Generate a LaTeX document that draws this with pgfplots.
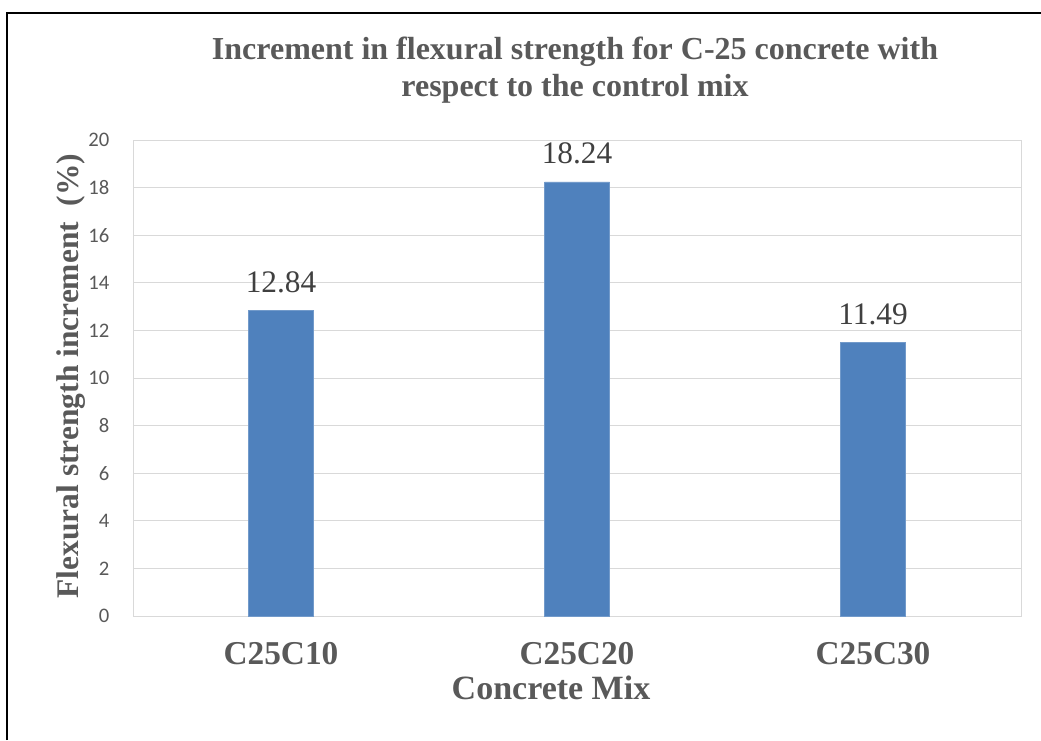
\documentclass[border=0pt]{standalone}
\usepackage{pgfplots}
\pgfplotsset{compat=1.18}
\usepackage{fontspec}
\setmainfont{Liberation Serif}
\newfontfamily\calibri{Carlito}
\definecolor{barblue}{HTML}{4F81BD}
\definecolor{gridgray}{HTML}{D9D9D9}
\definecolor{txtgray}{HTML}{595959}
\definecolor{valgray}{HTML}{404040}
\begin{document}
\begin{tikzpicture}
\path[use as bounding box] (0pt,0pt) rectangle (780.75pt,555pt);
\draw[line width=1.5pt] (5.6pt,0pt) -- (5.6pt,545.6pt) -- (780.75pt,545.6pt);
\begin{axis}[
  at={(99.75pt,93pt)}, anchor=south west,
  width=666pt, height=357pt, scale only axis,
  xmin=-0.5, xmax=2.5, ymin=0, ymax=20,
  xtick={0,1,2}, xticklabels={C25C10,C25C20,C25C30},
  ytick={0,2,...,20},
  major tick length=0pt,
  ymajorgrids, grid style={gridgray, line width=0.75pt},
  axis line style={gridgray, line width=0.75pt},
  /pgf/number format/assume math mode=true,
  yticklabel style={font=\calibri\fontsize{15.5}{18}\selectfont, text=txtgray, anchor=east, inner sep=0pt, xshift=-17.6pt},
  xticklabel style={font=\bfseries\fontsize{25}{28}\selectfont, text=txtgray, anchor=base, inner sep=0pt, yshift=-36.2pt},
  ybar, bar width=48.75pt,
  point meta=explicit symbolic,
  nodes near coords,
  nodes near coords style={font=\fontsize{23.5}{26}\selectfont, text=valgray, anchor=base, inner sep=0pt, yshift=13.5pt},
]
\addplot[fill=barblue, draw=barblue!80!white, line width=0.5pt] coordinates {(0,12.84) [12.84] (1,18.24) [18.24] (2,11.49) [11.49]};
\end{axis}
\node[anchor=base, text=txtgray, font=\bfseries\fontsize{24}{28}\selectfont] at (431.25pt,510.5pt) {Increment in flexural strength for C-25 concrete with};
\node[anchor=base, text=txtgray, font=\bfseries\fontsize{24}{28}\selectfont] at (431.25pt,482.5pt) {respect to the control mix};
\node[anchor=base, text=txtgray, font=\bfseries\fontsize{25.5}{28}\selectfont] at (413.25pt,30.5pt) {Concrete Mix};
\node[anchor=base, rotate=90, text=txtgray, font=\bfseries\fontsize{23.6}{26}\selectfont] at (58.5pt,273pt) {Flexural strength increment\ \ (\%)};
\end{tikzpicture}
\end{document}
